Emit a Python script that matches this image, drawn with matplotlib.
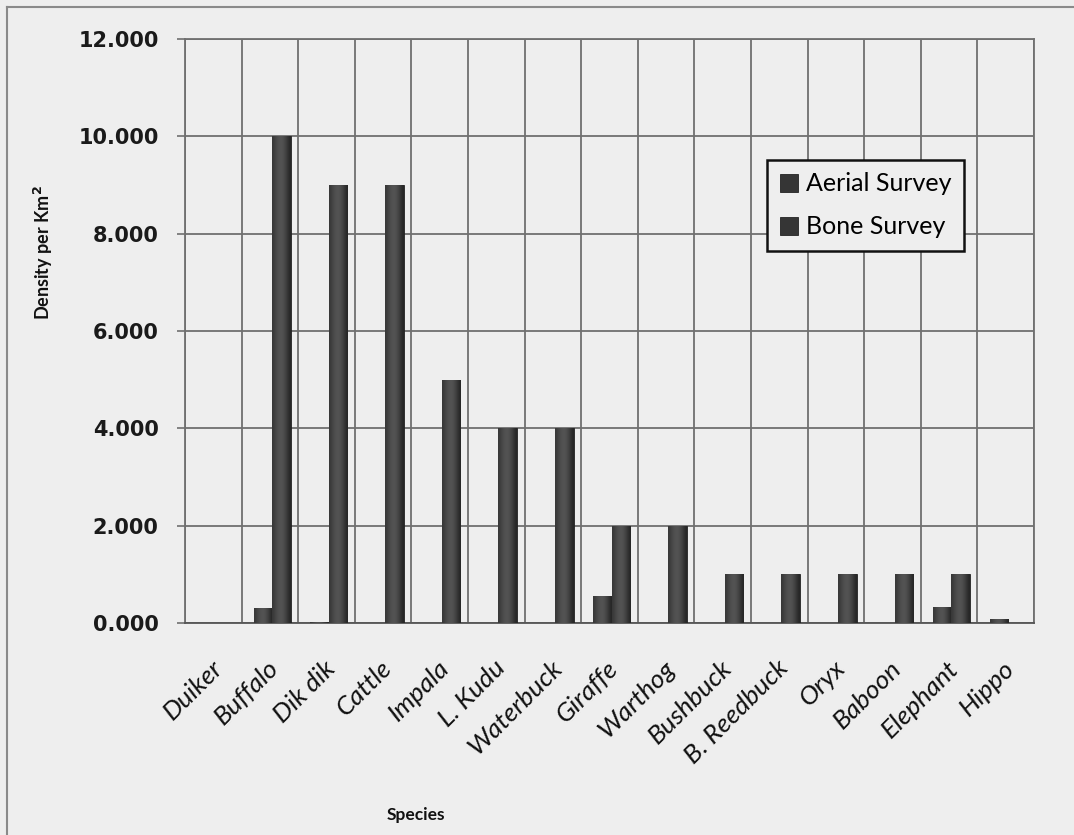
import numpy as np
import matplotlib
matplotlib.use("Agg")
import matplotlib.pyplot as plt
from matplotlib.lines import Line2D
from matplotlib.ticker import FormatStrFormatter
import matplotlib.transforms as mtransforms

# Species densities (per km2) from the two survey methods
species = ["Duiker", "Buffalo", "Dik dik", "Cattle", "Impala", "L. Kudu",
           "Waterbuck", "Giraffe", "Warthog", "Bushbuck", "B. Reedbuck",
           "Oryx", "Baboon", "Elephant", "Hippo"]
aerial = [0.0, 0.30, 0.03, 0.0, 0.0, 0.0, 0.0, 0.55, 0.0, 0.0, 0.0,
          0.0, 0.0, 0.32, 0.08]
bone = [0.0, 10.0, 9.0, 9.0, 5.0, 4.0, 4.0, 2.0, 2.0, 1.0, 1.0,
        1.0, 1.0, 1.0, 0.0]
yticks = [0, 2, 4, 6, 8, 10, 12]

bg = "#eeeeee"
grid_col = "#6f6f6f"
bar_col = "#353535"

fig = plt.figure(figsize=(10.74, 8.35), dpi=100, facecolor=bg)
ax = fig.add_axes([0.1723, 0.2539, 0.7905, 0.6994], facecolor=bg)

x = np.arange(len(species))
w = 0.33
b1 = ax.bar(x - 0.12, aerial, w, color=bar_col, edgecolor="#222222",
            linewidth=0.6, label="Aerial Survey", zorder=3)
b2 = ax.bar(x + 0.20, bone, w, color=bar_col, edgecolor="#222222",
            linewidth=0.6, label="Bone Survey", zorder=4)

# cylinder-like shading across each column
shade = np.array([[0.22, 0.27, 0.31, 0.33, 0.32, 0.28, 0.22, 0.15]])
for bars, z in ((b1, 3.1), (b2, 4.1)):
    for p in bars:
        if p.get_height() <= 0:
            continue
        x0, y0 = p.get_x(), p.get_y()
        im = ax.imshow(shade, cmap="gray", vmin=0, vmax=1, aspect="auto",
                       extent=(x0, x0 + p.get_width(), y0, y0 + p.get_height()),
                       interpolation="bicubic", zorder=z)
        im.set_clip_path(p)

ax.set_xlim(-0.5, len(species) - 0.5)
ax.set_ylim(0, 12)

# gridlines: horizontal at value ticks, vertical between categories
ax.set_yticks(yticks)
ax.yaxis.set_major_formatter(FormatStrFormatter("%.3f"))
ax.set_xticks(x)
ax.set_xticks(np.arange(-0.5, len(species), 1.0), minor=True)
ax.grid(True, which="major", axis="y", color=grid_col, linewidth=1.3, zorder=0)
ax.grid(True, which="minor", axis="x", color=grid_col, linewidth=1.3, zorder=0)
ax.tick_params(axis="x", which="both", length=0, pad=24)
ax.tick_params(axis="y", length=6, width=1.2, color=grid_col, pad=13)

for sp in ax.spines.values():
    sp.set_color(grid_col)
    sp.set_linewidth(1.3)
ax.spines["bottom"].set_color("#555555")

for lab in ax.get_yticklabels():
    lab.set_fontfamily("DejaVu Sans")
    lab.set_fontweight("bold")
    lab.set_fontsize(15)
    lab.set_color("#1a1a1a")

ax.set_xticklabels(species, rotation=45, ha="right", rotation_mode="anchor",
                   fontfamily="Lato", fontstyle="italic", fontsize=19,
                   color="#111111")
shift = mtransforms.ScaledTranslation(-3 / 100, 0, fig.dpi_scale_trans)
for lab in ax.get_xticklabels():
    lab.set_transform(lab.get_transform() + shift)

fig.text(0.040, 0.697, "Density per Km$^\\mathbf{2}$", rotation=90,
         ha="center", va="center", fontfamily="Lato", fontweight="bold",
         fontsize=13, color="#111111")
fig.text(0.387, 0.024, "Species", ha="center", va="center",
         fontfamily="Lato", fontweight="bold", fontsize=12.5, color="#111111")

leg = ax.legend(loc="upper left", bbox_to_anchor=(0.6855, 0.793),
                prop={"family": "Lato", "size": 18}, frameon=True,
                fancybox=False, framealpha=1, facecolor=bg, edgecolor="#111111",
                handlelength=0.75, handleheight=0.75, handletextpad=0.3,
                labelspacing=0.8, borderpad=0.5, borderaxespad=0)
leg.get_frame().set_linewidth(1.8)
leg.set_zorder(10)

# page frame around the chart area
fig.add_artist(Line2D([7 / 1074, 7 / 1074], [0, 1 - 7 / 835],
                      transform=fig.transFigure, color="#8a8a8a", linewidth=1.5))
fig.add_artist(Line2D([7 / 1074, 1], [1 - 7 / 835, 1 - 7 / 835],
                      transform=fig.transFigure, color="#8a8a8a", linewidth=1.5))

fig.savefig("out.png", dpi=100, facecolor=bg)
